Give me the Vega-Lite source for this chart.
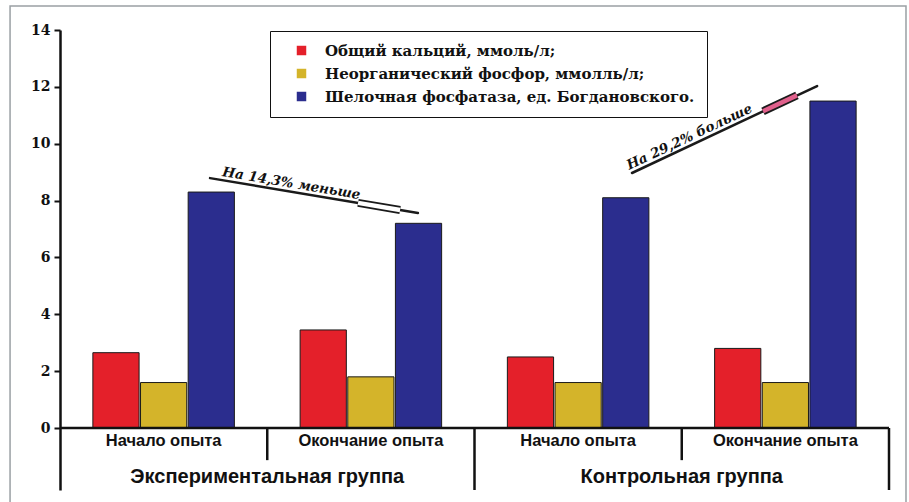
{
  "$schema": "https://vega.github.io/schema/vega-lite/v6.json",
  "width": 829,
  "height": 460,
  "autosize": "none",
  "padding": {"left": 60, "top": 30, "right": 20, "bottom": 12},
  "background": "white",
  "config": {
    "view": {"stroke": null},
    "axis": {"grid": false},
    "legend": {"orient": "none"}
  },
  "datasets": {
    "bars": [
      {"period": "exp_start", "indicator": "Общий кальций, ммоль/л;", "value": 2.65},
      {"period": "exp_start", "indicator": "Неорганический фосфор, ммолль/л;", "value": 1.6},
      {"period": "exp_start", "indicator": "Шелочная фосфатаза, ед. Богдановского.", "value": 8.3},
      {"period": "exp_end", "indicator": "Общий кальций, ммоль/л;", "value": 3.45},
      {"period": "exp_end", "indicator": "Неорганический фосфор, ммолль/л;", "value": 1.8},
      {"period": "exp_end", "indicator": "Шелочная фосфатаза, ед. Богдановского.", "value": 7.2},
      {"period": "ctrl_start", "indicator": "Общий кальций, ммоль/л;", "value": 2.5},
      {"period": "ctrl_start", "indicator": "Неорганический фосфор, ммолль/л;", "value": 1.6},
      {"period": "ctrl_start", "indicator": "Шелочная фосфатаза, ед. Богдановского.", "value": 8.1},
      {"period": "ctrl_end", "indicator": "Общий кальций, ммоль/л;", "value": 2.8},
      {"period": "ctrl_end", "indicator": "Неорганический фосфор, ммолль/л;", "value": 1.6},
      {"period": "ctrl_end", "indicator": "Шелочная фосфатаза, ед. Богдановского.", "value": 11.5}
    ],
    "stages": [
      {"center": 0.5, "label": "Начало опыта"},
      {"center": 1.5, "label": "Окончание опыта"},
      {"center": 2.5, "label": "Начало опыта"},
      {"center": 3.5, "label": "Окончание опыта"}
    ],
    "groups": [
      {"center": 1, "label": "Экспериментальная группа"},
      {"center": 3, "label": "Контрольная группа"}
    ],
    "stageBreaks": [{"pos": 1}, {"pos": 3}],
    "groupBreaks": [{"pos": 2}, {"pos": 4}],
    "notes": [
      {"note": "decrease", "x": 0.724, "y": 8.79, "x2": 1.727, "y2": 7.56, "bx": 1.438, "by": 7.92, "bx2": 1.641, "by2": 7.67, "tx": 1.11, "ty": 8.32, "text": "На 14,3% меньше"},
      {"note": "increase", "x": 2.76, "y": 8.97, "x2": 3.653, "y2": 12.03, "bx": 3.392, "by": 11.14, "bx2": 3.556, "by2": 11.7, "tx": 3.054, "ty": 9.98, "text": "На 29,2% больше"}
    ],
    "single": [{}]
  },
  "layer": [
    {
      "data": {"name": "bars"},
      "mark": {"type": "bar", "stroke": "#1a1a1a", "strokeWidth": 1},
      "encoding": {
        "x": {
          "field": "period",
          "type": "nominal",
          "sort": ["exp_start", "exp_end", "ctrl_start", "ctrl_end"],
          "scale": {"paddingInner": 0, "paddingOuter": 0},
          "axis": null
        },
        "xOffset": {
          "field": "indicator",
          "type": "nominal",
          "sort": ["Общий кальций, ммоль/л;", "Неорганический фосфор, ммолль/л;", "Шелочная фосфатаза, ед. Богдановского."],
          "scale": {"paddingOuter": 0.69, "paddingInner": 0.03}
        },
        "y": {
          "field": "value",
          "type": "quantitative",
          "scale": {"domain": [-2.18, 14], "nice": false, "zero": false},
          "axis": {
            "title": null,
            "values": [0, 2, 4, 6, 8, 10, 12, 14],
            "labelFont": "DejaVu Serif",
            "labelFontWeight": "bold",
            "labelFontSize": 14,
            "labelColor": "#111111",
            "labelPadding": 4,
            "tickColor": "#111111",
            "tickSize": 6,
            "tickWidth": 2,
            "domainColor": "#111111",
            "domainWidth": 2.5
          }
        },
        "color": {
          "field": "indicator",
          "type": "nominal",
          "scale": {
            "domain": ["Общий кальций, ммоль/л;", "Неорганический фосфор, ммолль/л;", "Шелочная фосфатаза, ед. Богдановского."],
            "range": ["#e4202a", "#d4b42a", "#2b2d8e"]
          },
          "legend": {
            "title": null,
            "legendX": 210,
            "legendY": 1,
            "padding": 12,
            "symbolType": "square",
            "symbolSize": 90,
            "symbolStrokeWidth": 0,
            "symbolOffset": 12,
            "labelOffset": 16,
            "labelFont": "DejaVu Serif",
            "labelFontWeight": "bold",
            "labelFontSize": 15,
            "labelColor": "#111111",
            "labelLimit": 500,
            "rowPadding": 7,
            "strokeColor": "#111111",
            "fillColor": "white",
            "encode": {"legend": {"update": {"strokeWidth": {"value": 2.5}}}}
          }
        }
      }
    },
    {
      "layer": [
        {
          "data": {"name": "single"},
          "mark": {"type": "rect", "fill": null, "stroke": "#9aa0a4", "strokeWidth": 1.5},
          "encoding": {
            "x": {"datum": -0.241, "type": "quantitative", "scale": {"domain": [0, 4], "nice": false, "zero": false}, "axis": null},
            "x2": {"datum": 4.082},
            "y": {"datum": 14.84, "type": "quantitative", "title": null},
            "y2": {"datum": -3.2}
          }
        },
        {
          "data": {"name": "single"},
          "mark": {"type": "rule", "color": "#111111", "strokeWidth": 2.5},
          "encoding": {
            "x": {"datum": 0, "type": "quantitative", "axis": null},
            "x2": {"datum": 4},
            "y": {"datum": 0, "type": "quantitative", "title": null}
          }
        },
        {
          "data": {"name": "stageBreaks"},
          "mark": {"type": "rule", "color": "#111111", "strokeWidth": 2.5},
          "encoding": {
            "x": {"field": "pos", "type": "quantitative", "axis": null},
            "y": {"datum": 0, "type": "quantitative", "title": null},
            "y2": {"datum": -1.13}
          }
        },
        {
          "data": {"name": "groupBreaks"},
          "mark": {"type": "rule", "color": "#111111", "strokeWidth": 2.5},
          "encoding": {
            "x": {"field": "pos", "type": "quantitative", "axis": null},
            "y": {"datum": 0, "type": "quantitative", "title": null},
            "y2": {"datum": -2.18}
          }
        },
        {
          "data": {"name": "stages"},
          "mark": {"type": "text", "font": "Liberation Sans Narrow, Liberation Sans", "fontWeight": "bold", "fontSize": 16.5, "color": "#111111", "baseline": "middle"},
          "encoding": {
            "x": {"field": "center", "type": "quantitative", "axis": null},
            "y": {"datum": -0.46, "type": "quantitative", "title": null},
            "text": {"field": "label"}
          }
        },
        {
          "data": {"name": "groups"},
          "mark": {"type": "text", "font": "Liberation Sans Narrow, Liberation Sans", "fontWeight": "bold", "fontSize": 20, "color": "#111111", "baseline": "middle"},
          "encoding": {
            "x": {"field": "center", "type": "quantitative", "axis": null},
            "y": {"datum": -1.72, "type": "quantitative", "title": null},
            "text": {"field": "label"}
          }
        },
        {
          "data": {"name": "notes"},
          "mark": {"type": "rule", "color": "#1a1a1a", "strokeWidth": 2.5, "strokeCap": "round"},
          "encoding": {
            "x": {"field": "x", "type": "quantitative", "axis": null},
            "x2": {"field": "x2"},
            "y": {"field": "y", "type": "quantitative", "title": null},
            "y2": {"field": "y2"}
          }
        },
        {
          "data": {"name": "notes"},
          "mark": {"type": "rule", "color": "#1a1a1a", "strokeWidth": 8, "strokeCap": "butt"},
          "encoding": {
            "x": {"field": "bx", "type": "quantitative", "axis": null},
            "x2": {"field": "bx2"},
            "y": {"field": "by", "type": "quantitative", "title": null},
            "y2": {"field": "by2"}
          }
        },
        {
          "data": {"name": "notes"},
          "mark": {"type": "rule", "strokeWidth": 4.5, "strokeCap": "butt"},
          "encoding": {
            "x": {"field": "bx", "type": "quantitative", "axis": null},
            "x2": {"field": "bx2"},
            "y": {"field": "by", "type": "quantitative", "title": null},
            "y2": {"field": "by2"},
            "color": {"field": "note", "type": "nominal", "scale": {"domain": ["decrease", "increase"], "range": ["#ffffff", "#e0608c"]}, "legend": null}
          }
        },
        {
          "data": {"name": "notes"},
          "transform": [{"filter": "datum.note === 'decrease'"}],
          "mark": {"type": "text", "font": "DejaVu Serif", "fontWeight": "bold", "fontStyle": "italic", "fontSize": 13.5, "color": "#111111", "angle": 9.5, "align": "center", "baseline": "alphabetic", "dy": -4},
          "encoding": {
            "x": {"field": "tx", "type": "quantitative", "axis": null},
            "y": {"field": "ty", "type": "quantitative", "title": null},
            "text": {"field": "text"}
          }
        },
        {
          "data": {"name": "notes"},
          "transform": [{"filter": "datum.note === 'increase'"}],
          "mark": {"type": "text", "font": "DejaVu Serif", "fontWeight": "bold", "fontStyle": "italic", "fontSize": 13.5, "color": "#111111", "angle": -25.2, "align": "center", "baseline": "alphabetic", "dy": -4},
          "encoding": {
            "x": {"field": "tx", "type": "quantitative", "axis": null},
            "y": {"field": "ty", "type": "quantitative", "title": null},
            "text": {"field": "text"}
          }
        }
      ]
    }
  ],
  "resolve": {"scale": {"x": "independent", "color": "independent"}}
}
